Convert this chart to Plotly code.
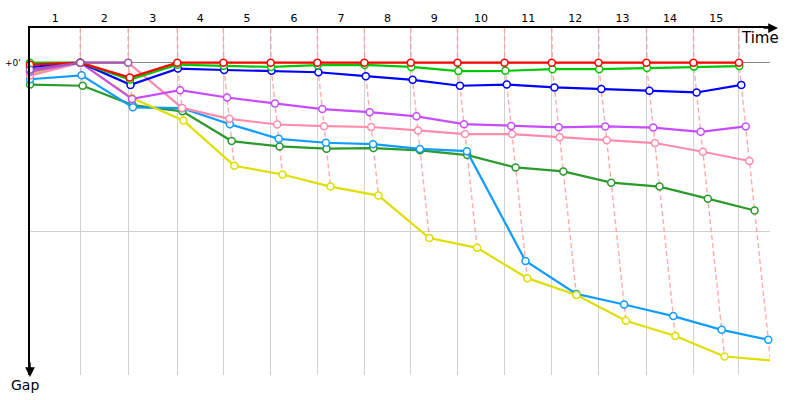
import plotly.graph_objects as go

# ---- data (seconds) ----
lap_labels = [str(i) for i in range(1, 16)]
leader_lap_times = [169, 161, 165, 155, 159, 157, 158, 156, 157, 158, 159, 157, 161, 158, 153]
y_tick_vals = [0, 60]
y_tick_text = ["+0'", ""]

names = ["DarkGreen", "LightBlue", "Yellow", "Pink", "Violet", "Blue", "Green", "Red", "Purple"]
colors = ["#2a9a2a", "#119cff", "#dede00", "#ff8cad", "#c84cff", "#0000ff", "#00c800", "#ff0000", "#9b59b0"]

gap_darkgreen = [7.8, 8.2, 15.1, 17.3, 27.9, 29.8, 30.6, 30.4, 31.2, 32.9, 37.3, 38.7, 42.7, 44.1, 48.4, 52.6]
gap_lightblue = [5.9, 4.5, 15.9, 16.2, 21.9, 27.1, 28.5, 29.0, 30.7, 31.5, 70.6, 82.3, 86.1, 90.2, 95.1, 98.6]
gap_yellow = [3.9, 0, 12.6, 20.6, 36.7, 39.8, 44.1, 47.3, 62.4, 65.9, 76.7, 82.7, 91.9, 97.3, 104.6, 106.0]
gap_pink = [4.6, 0, 0, 16.1, 20.0, 22.0, 22.6, 22.9, 24.1, 25.4, 25.4, 26.5, 27.6, 28.6, 31.7, 35.0]
gap_violet = [3.2, 0, 12.9, 9.8, 12.4, 14.5, 16.5, 17.6, 19.1, 21.9, 22.5, 23.0, 22.7, 23.1, 24.6, 22.7]
gap_blue = [1.6, 0, 7.9, 2.1, 2.6, 2.9, 3.4, 4.8, 6.1, 8.2, 7.8, 8.8, 9.4, 10.0, 10.6, 7.9]
gap_green = [0, 0, 6.0, 0.7, 1.1, 1.5, 0.9, 0.8, 1.5, 3.0, 2.9, 2.3, 2.3, 1.9, 1.4, 1.2]
gap_red = [0.7, 0, 5.3, 0, 0, 0, 0, 0, 0, 0, 0, 0, 0, 0, 0, 0]
gap_purple = [2.5, 0, 0]

gaps = [gap_darkgreen, gap_lightblue, gap_yellow, gap_pink, gap_violet,
        gap_blue, gap_green, gap_red, gap_purple]

# cumulative leader time at end of each lap (lap 0 = start)
T = [0]
for t in leader_lap_times:
    T.append(T[-1] + t)

X_MAX = 2487.4
Y_TOP = -12.35
Y_BOT = 111.18

fig = go.Figure()

# dashed lap lines
for k in range(1, len(T)):
    pts = sorted([g[k] for g in gaps if len(g) > k])
    xs = [T[k]] + [T[k] + g for g in pts]
    ys = [Y_TOP] + pts
    fig.add_trace(go.Scatter(x=xs, y=ys, mode="lines", hoverinfo="skip",
                             line=dict(color="rgba(255,150,150,0.8)", width=1.4, dash="5px,3px"),
                             cliponaxis=False))

# series
for name, col, g in zip(names, colors, gaps):
    xs = [0 if k == 0 else T[k] + g[k] for k in range(len(g))]
    fig.add_trace(go.Scatter(x=xs, y=g, mode="lines+markers", name=name,
                             line=dict(color=col, width=2.2),
                             marker=dict(symbol="circle", size=7, color="white",
                                         line=dict(color=col, width=1.5)),
                             cliponaxis=False))

mids = [(T[k - 1] + T[k]) / 2 for k in range(1, len(T))]

annotations = [
    dict(xref="paper", yref="paper", x=1.0108, y=1, ax=-16, ay=0, text="",
         showarrow=True, arrowhead=2, arrowsize=1.3, arrowwidth=1.5, arrowcolor="black"),
    dict(xref="paper", yref="paper", x=0, y=-0.0057, ax=0, ay=-16, text="",
         showarrow=True, arrowhead=2, arrowsize=1.3, arrowwidth=1.5, arrowcolor="black"),
    dict(xref="paper", yref="paper", x=0.986, y=0.9714, text="Time", showarrow=False,
         xanchor="center", yanchor="middle",
         font=dict(family="DejaVu Sans", size=15, color="black")),
    dict(xref="paper", yref="paper", x=-0.00716, y=-0.03, text="Gap", showarrow=False,
         xanchor="center", yanchor="middle",
         font=dict(family="DejaVu Sans", size=14, color="black")),
]
for v, t in zip(y_tick_vals, y_tick_text):
    if t:
        annotations.append(dict(xref="paper", yref="y", x=-0.0095, y=v, text=t, showarrow=False,
                                xanchor="right", yanchor="middle",
                                font=dict(family="DejaVu Sans", size=9, color="black")))

fig.update_layout(
    width=800, height=400,
    margin=dict(l=30, r=30, t=25, b=25),
    paper_bgcolor="white", plot_bgcolor="white",
    showlegend=False,
    xaxis=dict(range=[0, X_MAX], side="top", showline=True, linecolor="black", linewidth=1.5,
               tickmode="array", tickvals=mids, ticktext=lap_labels, ticks="",
               showgrid=False, zeroline=False,
               tickfont=dict(family="DejaVu Sans", size=11, color="black"),
               minor=dict(tickmode="array", tickvals=T[1:], showgrid=True,
                          gridcolor="#d0d0d0", gridwidth=1, ticks="")),
    yaxis=dict(range=[Y_BOT, Y_TOP], showline=True, linecolor="black", linewidth=1.5,
               tickmode="array", tickvals=y_tick_vals, ticktext=["", ""], ticks="",
               showgrid=True, gridcolor="#d0d0d0", gridwidth=1,
               zeroline=True, zerolinecolor="#888888", zerolinewidth=1),
    annotations=annotations,
)

fig.write_html("out.html")
